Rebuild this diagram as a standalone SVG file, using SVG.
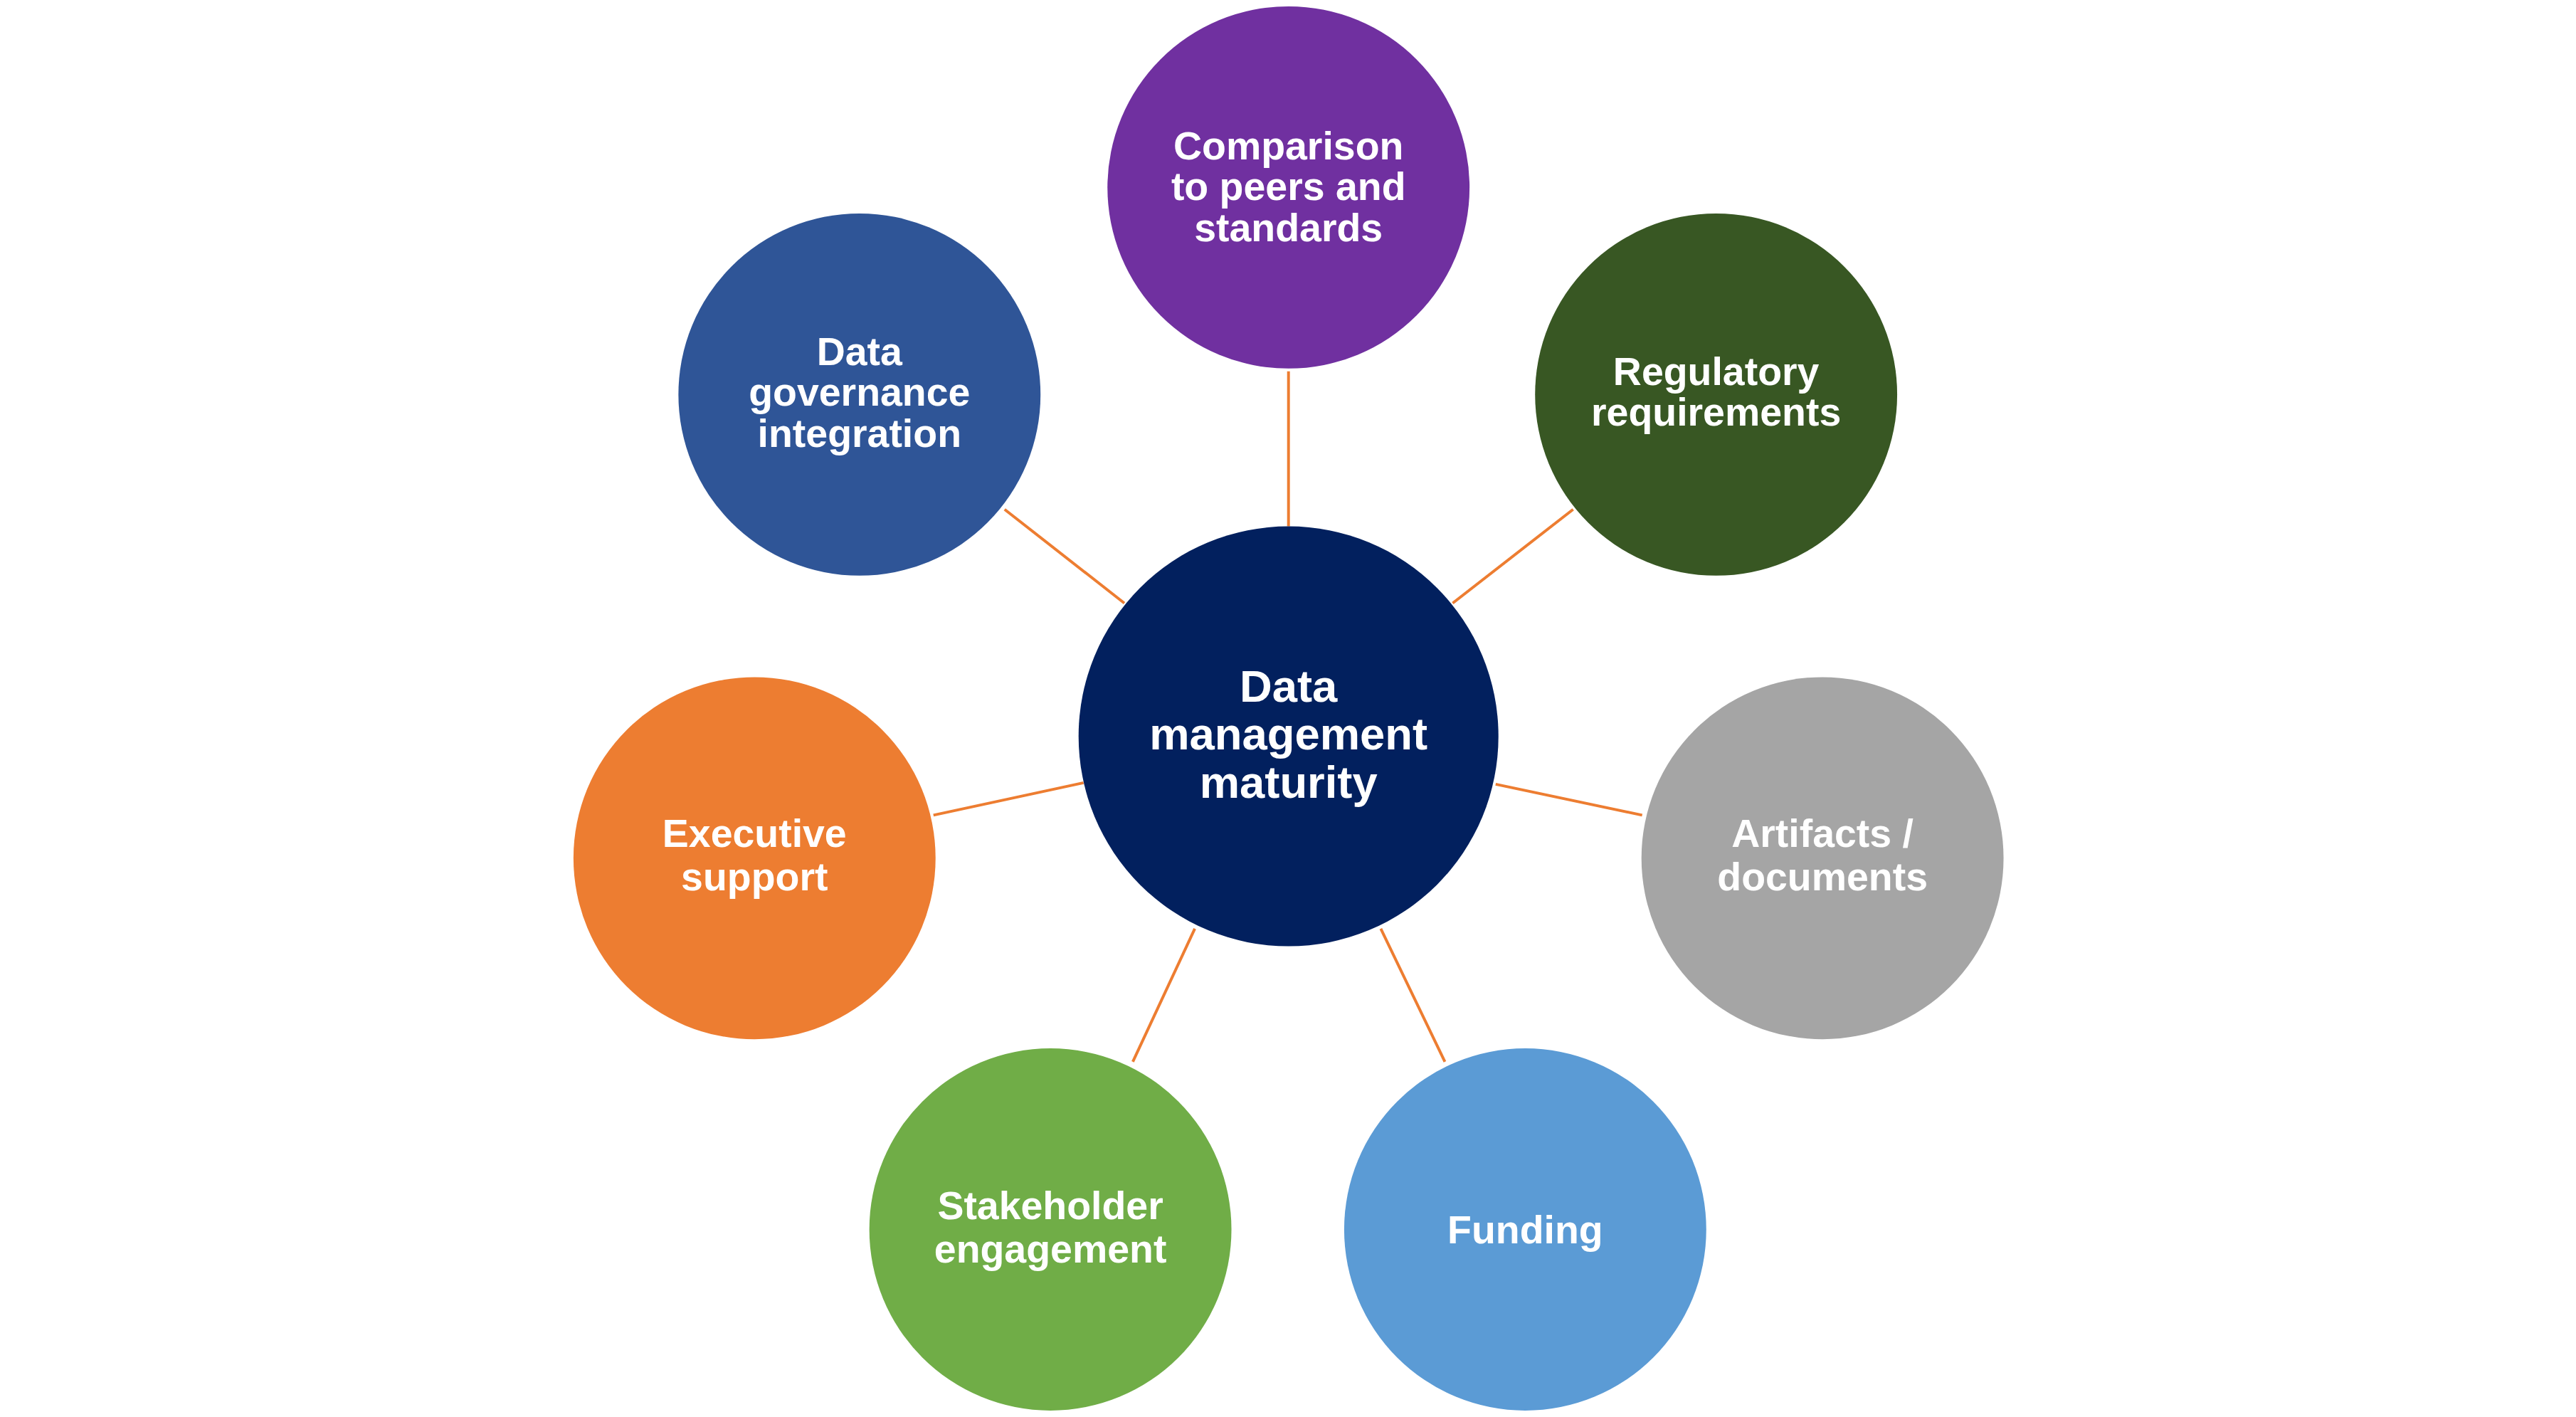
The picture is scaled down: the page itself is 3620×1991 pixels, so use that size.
<svg xmlns="http://www.w3.org/2000/svg" width="3620" height="1991" viewBox="0 0 3620 1991">
<style>
text{font-family:"Liberation Sans",Arial,sans-serif;font-weight:bold;fill:#fff;text-anchor:middle;font-size:56px}
.c{font-size:64px}
line{stroke:#ED7D31;stroke-width:4}
</style>
<rect width="3620" height="1991" fill="#fff"/>
<g transform="scale(0.99)">
<g id="connectors">
<line x1="1829" y1="527" x2="1829" y2="747"/>
<line x1="1426" y1="723" x2="1596" y2="856"/>
<line x1="2233" y1="723" x2="2062" y2="856"/>
<line x1="1325" y1="1157" x2="1538" y2="1111"/>
<line x1="2123" y1="1113" x2="2331" y2="1157"/>
<line x1="1696" y1="1318" x2="1608" y2="1507"/>
<line x1="1960" y1="1318" x2="2051" y2="1507"/>
</g>
<g id="center"><circle cx="1829" cy="1045" r="298" fill="#02205E"/>
<text class="c" x="1829" y="996">Data</text><text class="c" x="1829" y="1064">management</text><text class="c" x="1829" y="1132">maturity</text></g>
<g id="top"><circle cx="1829" cy="266" r="257" fill="#7030A0"/>
<text x="1829" y="226">Comparison</text><text x="1829" y="284">to peers and</text><text x="1829" y="342">standards</text></g>
<g id="tl"><circle cx="1220" cy="560" r="257" fill="#2F5597"/>
<text x="1220" y="518">Data</text><text x="1220" y="576">governance</text><text x="1220" y="634">integration</text></g>
<g id="tr"><circle cx="2436" cy="560" r="257" fill="#385723"/>
<text x="2436" y="546">Regulatory</text><text x="2436" y="604">requirements</text></g>
<g id="left"><circle cx="1071" cy="1218" r="257" fill="#ED7D31"/>
<text x="1071" y="1202">Executive</text><text x="1071" y="1264">support</text></g>
<g id="right"><circle cx="2587" cy="1218" r="257" fill="#A5A5A5"/>
<text x="2587" y="1202">Artifacts /</text><text x="2587" y="1264">documents</text></g>
<g id="bl"><circle cx="1491" cy="1745" r="257" fill="#70AD47"/>
<text x="1491" y="1730">Stakeholder</text><text x="1491" y="1792">engagement</text></g>
<g id="br"><circle cx="2165" cy="1745" r="257" fill="#5B9BD5"/>
<text x="2165" y="1765">Funding</text></g>
</g>
</svg>
